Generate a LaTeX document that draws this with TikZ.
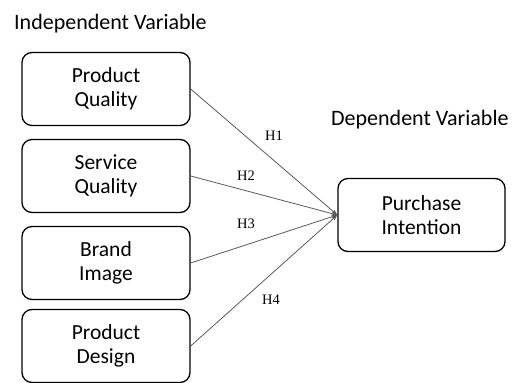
\documentclass[tikz,border=0pt]{standalone}
\usepackage{fontspec}
\setmainfont{Carlito}
\newfontfamily\hfont{Liberation Serif}
\usetikzlibrary{arrows.meta, positioning}

\begin{document}
\begin{tikzpicture}[x=1pt, y=-1pt,
    varbox/.style = {draw, line width=1.3pt, rounded corners=10pt,
      minimum width=168pt, minimum height=73pt, align=center,
      font=\fontsize{21.5}{24}\selectfont, inner sep=2pt},
    heading/.style = {anchor=west, font=\fontsize{22}{24}\selectfont, inner sep=0pt},
    hyp/.style = {font=\hfont\fontsize{14.5}{16}\selectfont, inner sep=0pt},
    link/.style = {draw=black!65, line width=0.8pt,
      -{Stealth[length=6pt, width=4pt]}}
  ]
  \useasboundingbox (0,0) rectangle (515,383);

  \node[heading] (indep) at (14,24) {Independent Variable};
  \node[heading] (dep) at (331,120) {Dependent Variable};

  \node[varbox] (quality) at (106,89) {Product\\Quality};
  \node[varbox] (service) at (106,176) {Service\\Quality};
  \node[varbox] (brand) at (106,263) {Brand\\Image};
  \node[varbox] (design) at (106,346) {Product\\Design};

  \node[varbox, minimum width=167pt] (intention) at (421.5,215) {Purchase\\Intention};

  \draw[link] (quality.east) -- (intention.west);
  \draw[link] (service.east) -- (intention.west);
  \draw[link] (brand.east) -- (intention.west);
  \draw[link] (design.east) -- (intention.west);

  \node[hyp] (h1) at (274,136) {H1};
  \node[hyp] (h2) at (246,176) {H2};
  \node[hyp] (h3) at (246,224) {H3};
  \node[hyp] (h4) at (271,300) {H4};
\end{tikzpicture}
\end{document}
